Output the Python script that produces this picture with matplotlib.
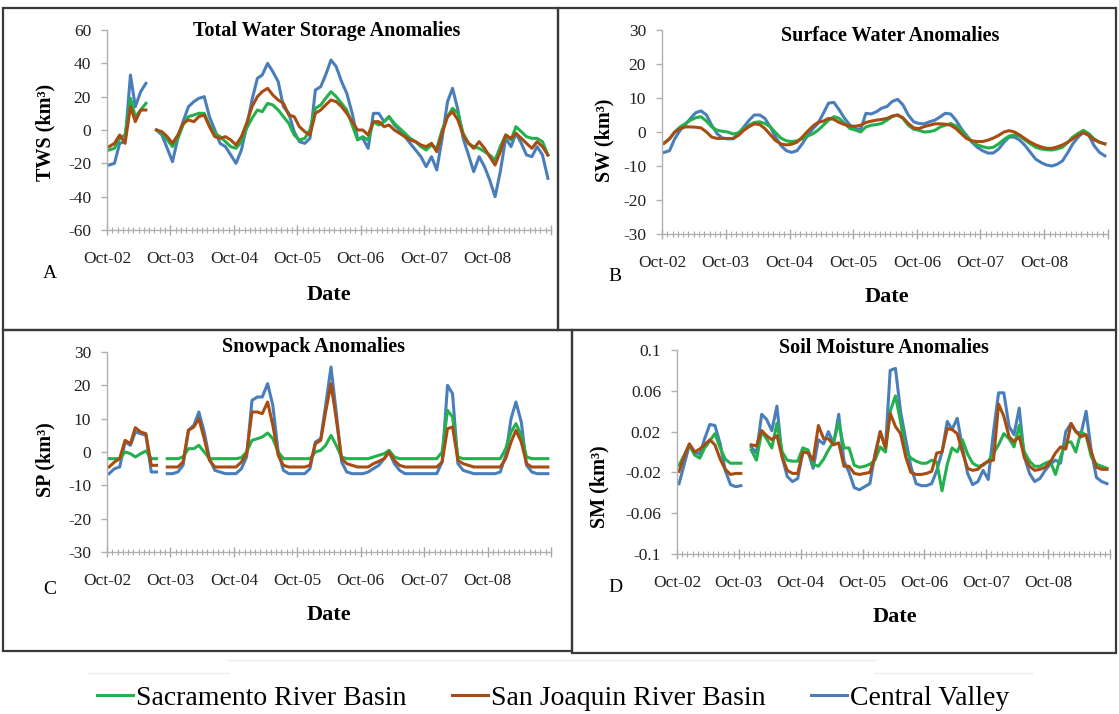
import numpy as np
import pandas as pd
import matplotlib
matplotlib.use('Agg')
import matplotlib.pyplot as plt
import matplotlib.dates as mdates
from matplotlib.patches import Rectangle
from matplotlib.lines import Line2D
from matplotlib.ticker import FuncFormatter, FixedLocator

plt.rcParams['font.family'] = 'Liberation Serif'
plt.rcParams['axes.unicode_minus'] = False

nan = np.nan

# monthly anomalies, Oct 2002 - Sep 2009 (values at mid-month)
dates = pd.date_range('2002-10-01', periods=84, freq='MS') + pd.Timedelta(days=12)
series_names = ['Sacramento River Basin', 'San Joaquin River Basin', 'Central Valley']

# A - total water storage (km3)
tws_sac = [-12, -11, -5, -3, 19, 8, 12, 16, nan,
           0, -2, -6, -10, -5, 3, 8, 9, 10,
           10, 3, -2, -4, -7, -10, -11, -7, 1, 7,
           12, 11, 16, 15, 12, 8, 4, -3, -6, -5,
           0, 13, 15, 19, 23, 20, 16, 12, 3, -6,
           -4, -6, 5, 3, 5, 8, 4, 1, -2, -5,
           -7, -10, -12, -9, -11, 0, 8, 13, 10, -2,
           -8, -10, -11, -13, -15, -18, -10, -3, -6, 2,
           -1, -4, -5, -5, -7, -15]
tws_sj = [-10, -8, -3, -8, 14, 5, 12, 12, nan,
          0, -1, -4, -8, -3, 4, 6, 5, 8,
          9, 2, -4, -5, -4, -6, -9, -4, 4, 14,
          20, 23, 25, 21, 18, 16, 9, 8, 2, -1,
          -3, 10, 12, 15, 18, 17, 14, 10, 5, 0,
          0, -3, 5, 5, 2, 3, 0, -2, -4, -6,
          -7, -9, -10, -8, -13, -2, 8, 11, 6, -3,
          -8, -11, -7, -11, -16, -21, -13, -3, -5, -2,
          -5, -8, -11, -7, -10, -15]
tws_cv = [-21, -20, -8, -7, 33, 14, 23, 28, nan,
          0, -3, -11, -19, -5, 5, 14, 17, 19,
          20, 8, 0, -8, -10, -15, -20, -12, 2, 18,
          31, 33, 40, 35, 29, 14, 10, -1, -7, -8,
          -5, 24, 26, 33, 42, 38, 29, 22, 10, -5,
          -5, -11, 10, 10, 5, 8, 3, 0, -4, -8,
          -12, -16, -22, -16, -24, -5, 17, 25, 12, -5,
          -15, -25, -16, -22, -30, -40, -25, -5, -10, -2,
          -8, -15, -16, -10, -15, -29]

# B - surface water (km3)
sw_sac = [-3.3, -2, 0, 1.5, 2.5, 3.5, 4.2, 4.5, 3.2, 1.5,
          0.5, 0.2, 0, -0.6, -0.2, 1, 2, 2.8, 3, 2.5,
          1.5, -0.2, -1.8, -2.6, -2.8, -2.6, -2, -1.2, -0.5, 0.5,
          2, 3.5, 4.5, 4, 2.5, 1, 0.6, 0, 1.5, 2,
          2.2, 2.5, 3.5, 4.5, 5, 4, 2, 0.8, 0.5, 0,
          0.1, 0.5, 1.5, 2, 2.5, 1.8, 0.5, -1.3, -2.8, -3.8,
          -4.3, -4.7, -4.5, -3.5, -2.2, -1.2, -0.9, -1.2, -2.4, -3.5,
          -4.5, -5, -5.2, -5.3, -5, -4.5, -3, -1.5, -0.4, 0.5,
          -0.5, -2, -3, -3.5]
sw_sj = [-3.3, -2, 0, 1, 1.5, 1.5, 1.4, 1.2, 0, -1.5,
         -1.9, -1.9, -1.9, -1.9, -1, 0.5, 1.6, 2.4, 2.2, 1,
         -0.8, -2.5, -3.5, -3.8, -3.6, -3, -1.5, 0.2, 1.8, 2.8,
         3.2, 4, 3.7, 2.8, 2.2, 1.7, 1.7, 2, 2.8, 3.2,
         3.5, 3.7, 4, 4.7, 5, 4.2, 2.5, 1.2, 1, 1.6,
         2, 2.4, 2.4, 2.3, 2, 1, -0.5, -1.9, -2.6, -2.8,
         -2.8, -2.4, -1.8, -1, 0, 0.4, 0, -0.9, -2, -3,
         -3.8, -4.4, -4.8, -4.8, -4.4, -3.8, -3, -2, -1, -0.2,
         -1, -2.3, -3, -3.5]
sw_cv = [-6, -5.5, -2, 0.5, 2.2, 4, 5.7, 6.2, 5, 2,
         -0.5, -1.8, -2, -2, -0.5, 1.5, 3.5, 5, 5, 4,
         1.5, -1.5, -4, -5.5, -6, -5.5, -3.5, -1, 1, 2.5,
         5.5, 8.5, 8.7, 6.5, 4, 2, 1, 0.8, 5.5, 5.3,
         6, 7, 7.5, 9, 9.6, 8, 5, 3, 2.5, 2.4,
         3, 3.5, 4.5, 5.5, 5.3, 3.5, 1, -1, -3, -4.5,
         -5.5, -6.2, -6.2, -5, -3, -1.5, -1.5, -2.4, -4, -6,
         -8, -9, -9.7, -10, -9.5, -8.5, -6, -3.5, -1.5, 0,
         -1, -4, -6, -7]

# C - snowpack (km3)
sp_sac = [-2, -2, -2, 0, -0.5, -1.5, -0.5, 0.3, -2, -2, nan,
          -2, -2, -2, -1.5, 1, 1, 2, 0, -2, -2,
          -2, -2, -2, -2, -1.7, 0, 3.5, 4, 4.5, 5.7,
          4, 0, -2, -2, -2, -2, -2, -2, 0, 0.5,
          2, 5, 2, -1.5, -2, -2, -2, -2, -2, -1.5,
          -1, -0.5, 0.5, -1.5, -2, -2, -2, -2, -2, -2,
          -2, -2, 0, 12.5, 10.5, -1.5, -2, -2, -2, -2,
          -2, -2, -2, -2, 1, 6, 8.5, 5, -1.5, -2,
          -2, -2, -2]
sp_sj = [-4.5, -3, -2, 3.5, 2.5, 7.3, 6, 5.5, -4, -4, nan,
         -4.5, -4.5, -4.5, -3, 6.5, 7.5, 10, 4, -2.5, -4.5,
         -4.5, -4.5, -4.5, -4.5, -3, -0.5, 12, 12, 11.5, 15,
         8, -1, -4, -4.5, -4.5, -4.5, -4.5, -4, 2.5, 3.5,
         12, 20.5, 10, -2, -3.5, -4, -4.5, -4.5, -4.5, -3.5,
         -2.8, -2, 0, -2.5, -4, -4.5, -4.5, -4.5, -4.5, -4.5,
         -4.5, -4.5, -3, 7, 7.5, -2.5, -3.5, -4, -4.5, -4.5,
         -4.5, -4.5, -4.5, -4.5, -2, 3, 6.5, 3, -3.5, -4.5,
         -4.5, -4.5, -4.5]
sp_cv = [-6.5, -5, -4.5, 3, 2, 6, 5.5, 5, -6, -6, nan,
         -6.5, -6.5, -6, -4, 6.5, 8, 12, 6, -2, -5.5,
         -6, -6.5, -6.5, -6.5, -5, -1.5, 15.5, 16.5, 16.5, 20.5,
         14, 0, -5.5, -6.5, -6.5, -6.5, -6.5, -5, 3, 4,
         14, 25.5, 12, -3, -6, -6.5, -6.5, -6.5, -6, -5,
         -4, -2, 0, -3.5, -5.5, -6.5, -6.5, -6.5, -6.5, -6.5,
         -6.5, -6.5, -3, 20, 17.5, -3.5, -5.5, -6, -6.5, -6.5,
         -6.5, -6.5, -6.5, -6, -1, 10, 15, 9, -4, -6,
         -6.5, -6.5, -6.5]

# D - soil moisture (km3)
sm_sac = [-0.013, -0.003, 0.007, -0.003, -0.006, 0.004, 0.011, 0.018, 0.004, -0.007,
          -0.011, -0.011, -0.011, nan,
          0.002, -0.008, 0.02, 0.013, 0.004, 0.028, 0.0, -0.008, -0.009, -0.009,
          0.004, 0.002, -0.012, -0.014, -0.007, 0.002, 0.01, 0.029, 0.004, 0.004,
          -0.013, -0.015, -0.014, -0.012, -0.008, 0.005, 0.0, 0.04, 0.055, 0.03,
          0.0, -0.006, -0.009, -0.011, -0.011, -0.008, -0.01, -0.038, -0.012, 0.004,
          0.0, 0.012, -0.002, -0.011, -0.014, -0.013, -0.009, -0.001, 0.007, 0.018,
          0.013, 0.005, 0.026, 0.0, -0.009, -0.014, -0.014, -0.011, -0.009, -0.022,
          -0.005, 0.009, 0.01, 0.0, 0.02, 0.016, -0.005, -0.012, -0.014, -0.016]
sm_sj = [-0.019, -0.004, 0.008, 0.0, 0.003, 0.007, 0.012, 0.007, -0.007, -0.017,
         -0.022, -0.021, -0.021, nan,
         0.007, 0.006, 0.021, 0.016, 0.012, 0.016, -0.005, -0.018, -0.021, -0.021,
         0.0, -0.001, -0.008, 0.026, 0.013, 0.013, 0.007, 0.009, -0.014, -0.014,
         -0.021, -0.022, -0.021, -0.02, -0.005, 0.02, 0.004, 0.038, 0.025, 0.018,
         -0.005, -0.02, -0.022, -0.022, -0.021, -0.019, -0.001, 0.0, 0.023, 0.022,
         0.018, 0.0, -0.016, -0.018, -0.017, -0.012, -0.009, -0.008, 0.047, 0.035,
         0.015, 0.01, 0.015, -0.005, -0.014, -0.018, -0.017, -0.015, -0.01, -0.001,
         0.005, 0.003, 0.028, 0.02, 0.015, 0.017, 0.0, -0.015, -0.017, -0.017]
sm_cv = [-0.031, -0.012, 0.007, 0.0, -0.002, 0.013, 0.027, 0.026, 0.008, -0.018,
         -0.032, -0.034, -0.033, nan,
         0.005, -0.001, 0.037, 0.032, 0.021, 0.045, -0.005, -0.024, -0.029, -0.026,
         0.0, 0.0, -0.016, 0.012, 0.008, 0.02, 0.008, 0.037, -0.009, -0.02,
         -0.035, -0.037, -0.034, -0.031, -0.002, 0.02, 0.004, 0.08, 0.082, 0.04,
         0.012, -0.014, -0.031, -0.033, -0.033, -0.031, -0.018, 0.0, 0.03, 0.022,
         0.033, 0.005, -0.021, -0.032, -0.029, -0.018, -0.027, 0.02, 0.058, 0.058,
         0.025, 0.017, 0.043, -0.005, -0.021, -0.029, -0.026, -0.018, -0.012, -0.008,
         -0.011, 0.02, 0.028, 0.02, 0.018, 0.04, 0.0, -0.025, -0.029, -0.031]

colors = {'sac': '#22b14c', 'sj': '#a84d12', 'cv': '#4a7ebb'}
W, H = 1119, 714


def px(x, y):
    return x / W, 1 - y / H


def date_label(v, pos):
    d = mdates.num2date(v)
    return '' if d.year > 2008 else d.strftime('%b-%y')


fig = plt.figure(figsize=(W / 100, H / 100), dpi=100)

# panel boxes
for x0, y0, x1, y1 in [(3, 8, 558, 330), (558, 8, 1116, 330),
                       (3, 330, 572, 651), (572, 330, 1116, 653)]:
    fig.add_artist(Rectangle(px(x0, y1), (x1 - x0) / W, (y1 - y0) / H,
                             transform=fig.transFigure, fill=False,
                             edgecolor='#3a3a3a', linewidth=1.6))

panels = [
    # axes box (px), data, ylim, yticks, title, ylabel, letter, text positions
    dict(box=(107, 30, 551, 230), data=(tws_sac, tws_sj, tws_cv), ylim=(-60, 60),
         yticks=[-60, -40, -20, 0, 20, 40, 60], title='Total Water Storage Anomalies',
         ylabel='TWS (km³)', letter='A', tpos=(327, 31), ypos=(45, 132),
         dpos=(329, 295), lpos=(50, 273)),
    dict(box=(662, 30, 1108, 234), data=(sw_sac, sw_sj, sw_cv), ylim=(-30, 30),
         yticks=[-30, -20, -10, 0, 10, 20, 30], title='Surface Water Anomalies',
         ylabel='SW (km³)', letter='B', tpos=(890, 36), ypos=(604, 140),
         dpos=(887, 297), lpos=(615, 277)),
    dict(box=(107, 352, 551, 552), data=(sp_sac, sp_sj, sp_cv), ylim=(-30, 30),
         yticks=[-30, -20, -10, 0, 10, 20, 30], title='Snowpack Anomalies',
         ylabel='SP (km³)', letter='C', tpos=(314, 347), ypos=(45, 460),
         dpos=(329, 615), lpos=(50, 590)),
    dict(box=(677, 350, 1110, 554), data=(sm_sac, sm_sj, sm_cv), ylim=(-0.1, 0.1),
         yticks=[-0.1, -0.06, -0.02, 0.02, 0.06, 0.1], title='Soil Moisture Anomalies',
         ylabel='SM (km³)', letter='D', tpos=(884, 348), ypos=(599, 487),
         dpos=(895, 617), lpos=(615, 588)),
]

for p in panels:
    x0, y0, x1, y1 = p['box']
    ax = fig.add_axes([x0 / W, 1 - y1 / H, (x1 - x0) / W, (y1 - y0) / H])
    sac, sj, cv = p['data']
    ax.plot(dates, cv, color=colors['cv'], lw=2.2, label=series_names[2])
    ax.plot(dates, sac, color=colors['sac'], lw=2.2, label=series_names[0])
    ax.plot(dates, sj, color=colors['sj'], lw=2.2, label=series_names[1])

    ax.set_xlim(pd.Timestamp('2002-10-01'), pd.Timestamp('2009-10-01'))
    ax.set_ylim(*p['ylim'])
    ax.yaxis.set_major_locator(FixedLocator(p['yticks']))
    ax.yaxis.set_major_formatter(FuncFormatter(lambda v, pos: f'{v:g}'))
    ax.xaxis.set_major_locator(mdates.MonthLocator(bymonth=10))
    ax.xaxis.set_minor_locator(mdates.MonthLocator())
    ax.xaxis.set_major_formatter(FuncFormatter(date_label))

    for s in ['top', 'right']:
        ax.spines[s].set_visible(False)
    for s in ['left', 'bottom']:
        ax.spines[s].set_color('#b0b0b0')
        ax.spines[s].set_linewidth(1.0)
    ax.tick_params(axis='y', direction='out', length=4.5, width=1.0, color='#b0b0b0',
                   labelsize=12.5, pad=7, labelcolor='#222222')
    ax.tick_params(axis='x', which='major', direction='inout', length=7, width=1.0,
                   color='#a8a8a8', labelsize=12.5, pad=11.5, labelcolor='#222222')
    ax.tick_params(axis='x', which='minor', direction='inout', length=5, width=0.8,
                   color='#a8a8a8')
    ax.patch.set_alpha(0)

    fig.text(*px(*p['tpos']), p['title'], ha='center', va='center',
             fontsize=14.5, fontweight='bold')
    fig.text(*px(*p['ypos']), p['ylabel'], ha='center', va='center', rotation=90,
             fontsize=14.5, fontweight='bold')
    fig.text(*px(*p['dpos']), 'Date', ha='center', va='center',
             fontsize=16, fontweight='bold')
    fig.text(*px(*p['lpos']), p['letter'], ha='center', va='center', fontsize=14)

# faint legend frame remnants
for xa, xb, yy in [(228, 875, 660), (89, 228, 673), (875, 1032, 673)]:
    fig.add_artist(Line2D([xa / W, xb / W], [1 - yy / H] * 2, transform=fig.transFigure,
                          color='#ececec', lw=1.0))

handles = [Line2D([], [], color=colors[k], lw=2.2) for k in ['sac', 'sj', 'cv']]
fig.legend(handles, series_names, loc='center', bbox_to_anchor=px(553, 698),
           ncol=3, frameon=False, fontsize=20, handlelength=1.3, handletextpad=0.1,
           columnspacing=1.65)

fig.savefig('out.png', dpi=100)
